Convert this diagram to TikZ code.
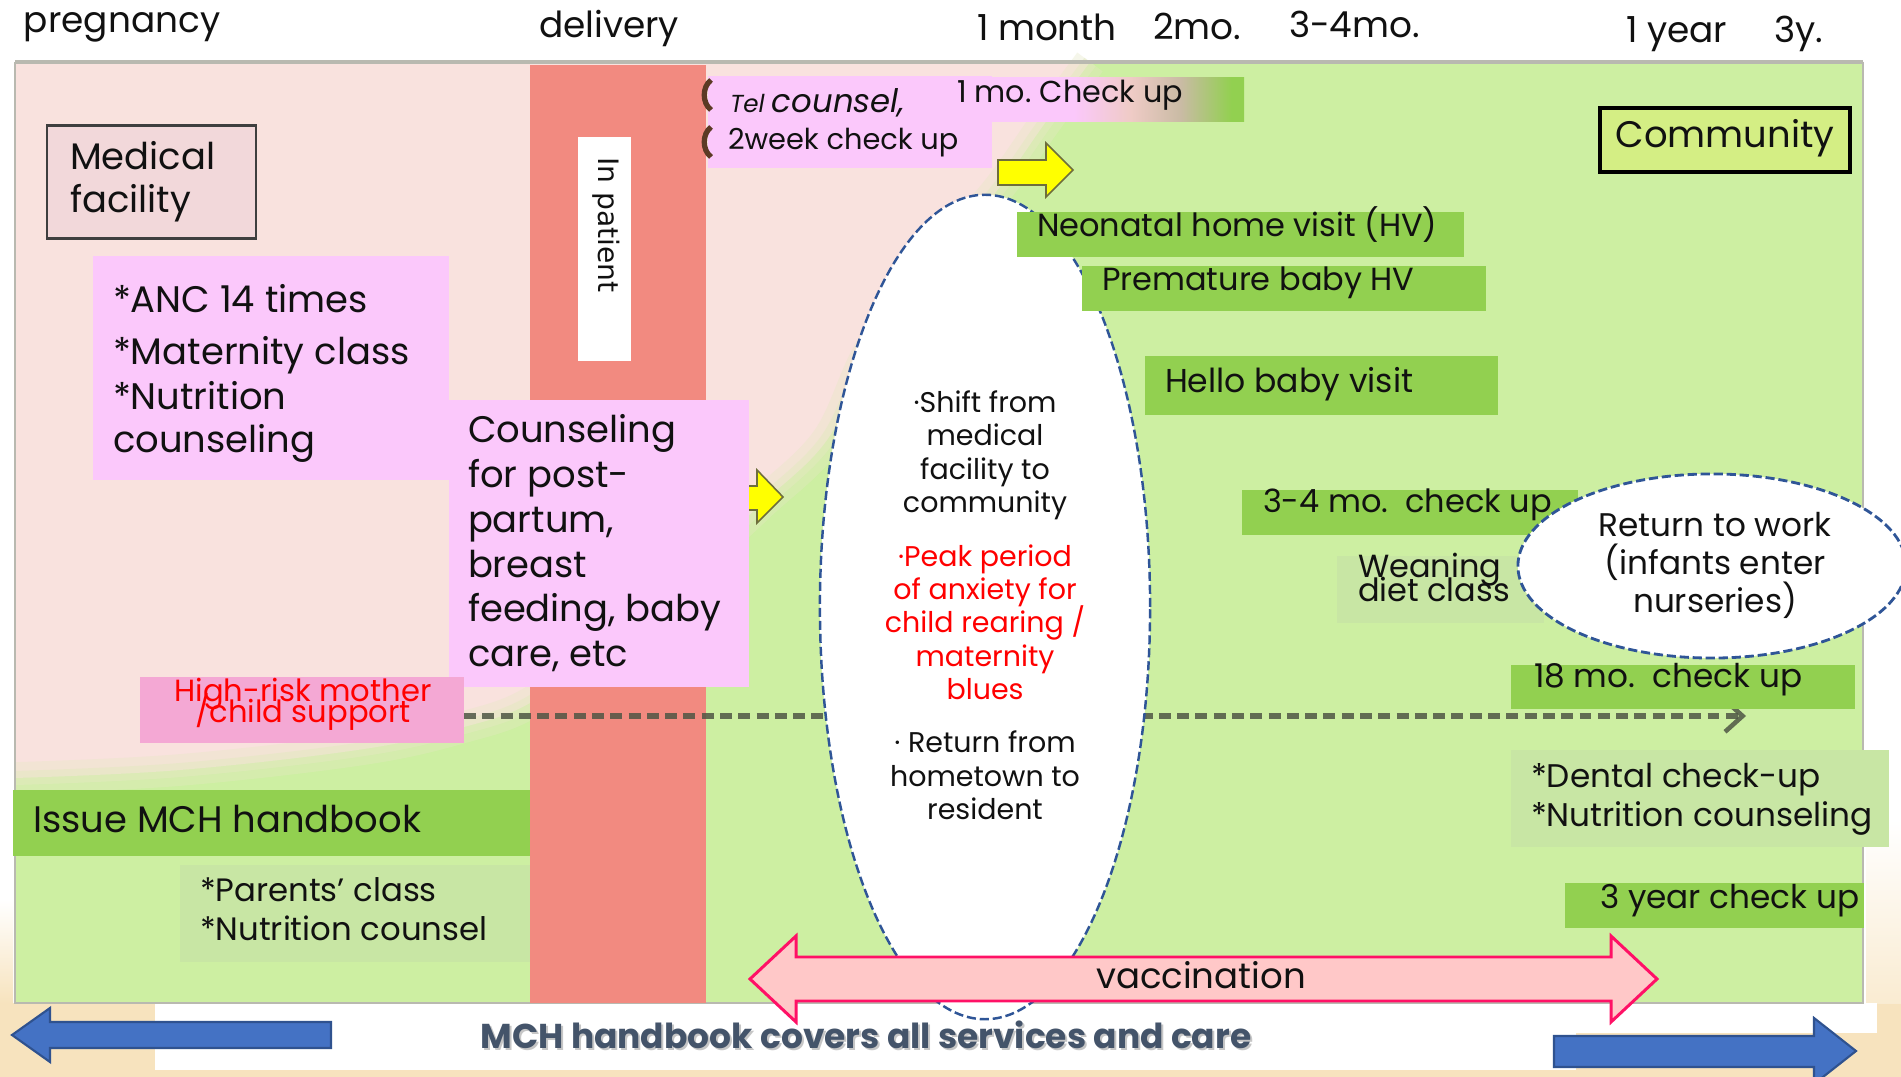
\documentclass[tikz,border=0pt]{standalone}
\usepackage{fontspec}
\setmainfont{Poppins}
\newfontfamily\inpatfont{DejaVu Sans}
\usetikzlibrary{fit,shapes.geometric,arrows.meta}

% palette
\definecolor{ink}{HTML}{111111}
\definecolor{bgpink}{HTML}{F9E2DE}
\definecolor{bggreen}{HTML}{CDEFA2}
\definecolor{bandred}{HTML}{F28A80}
\definecolor{boxpink}{HTML}{FBC8FB}
\definecolor{riskpink}{HTML}{F4A8D4}
\definecolor{boxgreen}{HTML}{92D050}
\definecolor{softgreen}{HTML}{C8E6A4}
\definecolor{medfill}{HTML}{F2D8DA}
\definecolor{medline}{HTML}{3F3F3F}
\definecolor{comfill}{HTML}{D4EE84}
\definecolor{vacfill}{HTML}{FFC8C8}
\definecolor{vacline}{HTML}{FF1166}
\definecolor{bluefill}{HTML}{4472C4}
\definecolor{blueline}{HTML}{2F528F}
\definecolor{ovalline}{HTML}{2F5597}
\definecolor{slate}{HTML}{44546A}
\definecolor{beige}{HTML}{F7E3BE}
\definecolor{yellowarrow}{HTML}{FFFF00}
\definecolor{arrowedge}{HTML}{6E6E3C}
\definecolor{dashgray}{HTML}{4F5645}
\definecolor{panelline}{HTML}{B9B9B0}
\definecolor{brownmark}{HTML}{5C3A24}
\definecolor{fadepeach}{HTML}{EFCBC6}
\definecolor{fademauve}{HTML}{C9BBA4}
\definecolor{alarm}{HTML}{FF0000}

\pgfdeclarehorizontalshading{monthfade}{100bp}{color(0bp)=(boxpink); color(25bp)=(boxpink); color(48bp)=(boxpink); color(57bp)=(fadepeach); color(65bp)=(fademauve); color(73bp)=(boxgreen); color(100bp)=(boxgreen)}

\newcommand\setsz[1]{\fontsize{#1}{#1}\selectfont}
% one named node per line: prefix, x, style, list of baseline/text
\newcommand\textlines[4]{%
  \foreach \yy/\txt [count=\k] in {#4}{\node[#3] (#1-\k) at (#2,\yy) {\txt};}}

\tikzset{
  area/.style={inner sep=0pt, outer sep=0pt},
  lbl/.style={anchor=base west, inner sep=0pt, outer sep=0pt, text=ink},
  clbl/.style={anchor=base, inner sep=0pt, outer sep=0pt, text=ink},
  greenbox/.style={area, fill=boxgreen},
  softbox/.style={area, fill=softgreen},
  pinkbox/.style={area, fill=boxpink},
  oval/.style={ellipse, area, fill=white, draw=ovalline, line width=0.7pt, dash pattern=on 2.6pt off 1.1pt},
  yarrow/.style={fill=yellowarrow, draw=arrowedge, line width=0.45pt, line join=miter},
  bluearrow/.style={fill=bluefill, draw=blueline, line width=0.6pt, line join=miter},
}

\begin{document}
\begin{tikzpicture}[x=0.01cm, y=-0.01cm]
\useasboundingbox (0,0) rectangle (1901,1077);
\fill[white] (0,0) rectangle (1901,1077);

% page background below the panel
\fill[beige] (0,1003) rectangle (1901,1077);
\shade[top color=white, bottom color=beige] (0,900) rectangle (13,1003);
\shade[top color=white, bottom color=beige!70] (1866,820) rectangle (1901,1003);
\fill[white] (155,1003) rectangle (1576,1070);
\fill[white] (1576,1003) rectangle (1877,1033);

% timeline panel: community (green) and medical facility (pink)
\node[area, fill=bggreen, fit={(15,62) (1863,1003)}] (panel) {};
\fill[bgpink] (15,62) -- plot[smooth, tension=0.6] coordinates {(1090,62) (1045,123) (995,193) (930,265) (870,350) (827,440) (760,505) (706,555) (600,650) (530,703) (464,727) (364,749) (180,770) (15,778)} -- cycle;
\draw[bgpink!55!bggreen, opacity=0.35, line width=9pt] plot[smooth, tension=0.6] coordinates {(1090,62) (1045,123) (995,193) (930,265) (870,350) (827,440) (760,505) (706,555) (600,650) (530,703) (464,727) (364,749) (180,770) (15,778)};
\draw[bgpink!50!bggreen, opacity=0.5, line width=4pt] plot[smooth, tension=0.6] coordinates {(1090,62) (1045,123) (995,193) (930,265) (870,350) (827,440) (760,505) (706,555) (600,650) (530,703) (464,727) (364,749) (180,770) (15,778)};
\draw[panelline, line width=1.2pt] (15,62) -- (1863,62);
\draw[panelline, line width=0.6pt] (1863,62) -- (1863,1003) -- (15,1003) -- (15,62);

% in-patient band
\node[area, fill=bandred, fit={(530,65) (706,1003)}] (band) {};
\node[area, fill=white, fit={(578,137) (631,361)}] (inpat) {};
\node[inner sep=0pt, rotate=-90, font=\inpatfont\setsz{8}, text=ink] (inpattext) at (606,225) {In patient};

% time axis labels
\begin{scope}[font=\setsz{10.2}]
\node[lbl] (tpreg) at (24,33) {pregnancy};
\node[lbl] (tdeliv) at (539,38) {delivery};
\node[lbl] (tmonth) at (977,41) {1 month};
\node[lbl] (t2mo) at (1153,40) {2mo.};
\node[lbl] (t34mo) at (1289,38) {3-4mo.};
\node[lbl] (tyear) at (1626,43) {1 year};
\node[lbl] (t3y) at (1774,43) {3y.};
\end{scope}

% medical facility side
\node[area, fill=medfill, draw=medline, line width=0.85pt, fit={(47,126) (256,239)}] (medbox) {};
\textlines{med}{70}{lbl, font=\setsz{10.5}}{170/{Medical}, 213/{facility}}

\node[pinkbox, fit={(93,256) (449,480)}] (ancbox) {};
\textlines{anc}{113}{lbl, font=\setsz{10.5}}{313/{*ANC 14 times}, 365/{*Maternity class}, 410/{*Nutrition}, 453/{counseling}}

% small transition arrow (partly under the counseling box)
\draw[yarrow] (735,486) -- (757,486) -- (757,470) -- (783,497) -- (757,523) -- (757,510) -- (735,510) -- cycle;

\node[pinkbox, fit={(449,400) (749,687)}] (counsbox) {};
\textlines{couns}{468}{lbl, font=\setsz{10.5}}{443/{Counseling}, 488/{for post-}, 533/{partum,}, 578/{breast}, 622/{feeding, baby}, 667/{care, etc}}

\node[area, fill=riskpink, fit={(140,677) (464,743)}] (riskbox) {};
\textlines{risk}{303}{clbl, text=alarm, font=\setsz{8.7}}{702/{High-risk mother}, 723/{/child support}}

\node[greenbox, fit={(13,790) (530,856)}] (issuebox) {};
\node[lbl, font=\setsz{10.5}] (issuetext) at (33,833) {Issue MCH handbook};
\node[softbox, fit={(180,865) (530,962)}] (parentsbox) {};
\textlines{parents}{200}{lbl, font=\setsz{9.2}}{902/{*Parents’ class}, 940/{*Nutrition counsel}}

% early postnatal services
\node[pinkbox, fit={(708,76) (992,168)}] (telbox) {};
\draw[brownmark, line width=1.5pt] (711,80) .. controls (702,87) and (702,103) .. (711,110);
\draw[brownmark, line width=1.5pt] (711,127) .. controls (702,134) and (702,150) .. (711,157);
\node[lbl] (teltext) at (730,113) {{\setsz{7}\itshape Tel }{\setsz{9.2}\itshape counsel,}};
\node[lbl, font=\setsz{8.2}] (twoweek) at (728,150) {2week check up};

\node[area, shading=monthfade, fit={(929,78) (1244,122)}] (monthbox) {};
\node[lbl, font=\setsz{8.6}] (monthtext) at (957,103) {1 mo.\ Check up};

\draw[yarrow] (998,160) -- (1046,160) -- (1046,143) -- (1073,170) -- (1046,197) -- (1046,185) -- (998,185) -- cycle;

% follow-up line for high-risk families
\coordinate (dashend) at (1746,716);
\draw[dashgray, opacity=0.85, line width=1.5pt, dash pattern=on 3.4pt off 1.8pt, -{Straight Barb[length=5pt, width=9pt, line width=1.3pt]}] (riskbox.east |- dashend) -- (dashend);

% transition period
\node[oval, minimum width=3.30cm, minimum height=8.24cm] (shift) at (985,607) {};
\begin{scope}[font=\setsz{8.1}]
\textlines{shift}{985}{clbl}{413/{·Shift from}, 446/{medical}, 480/{facility to}, 513/{community}}
\textlines{peak}{985}{clbl, text=alarm}{567/{·Peak period}, 600/{of anxiety for}, 633/{child rearing /}, 667/{maternity}, 700/{blues}}
\textlines{home}{985}{clbl}{753/{·\ Return from}, 787/{hometown to}, 820/{resident}}
\end{scope}

% community services
\begin{scope}[font=\setsz{9.1}]
\node[greenbox, fit={(1017,212) (1464,257)}] (neobox) {};
\node[lbl] (neotext) at (1037,237) {Neonatal home visit (HV)};
\node[greenbox, fit={(1082,266) (1486,311)}] (premabox) {};
\node[lbl] (prematext) at (1102,291) {Premature baby HV};
\node[greenbox, fit={(1145,356) (1498,415)}] (hellobox) {};
\node[lbl, font=\setsz{9.4}] (hellotext) at (1165,393) {Hello baby visit};
\node[greenbox, fit={(1242,490) (1578,535)}] (m34box) {};
\node[lbl] (m34text) at (1263,513) {3-4 mo.\ \ check up};
\node[softbox, fit={(1337,556) (1544,623)}] (weanbox) {};
\textlines{wean}{1358}{lbl}{578/{Weaning}, 602/{diet class}}
\end{scope}

\node[oval, line width=0.8pt, minimum width=3.88cm, minimum height=1.84cm] (work) at (1712,566) {};
\textlines{work}{1715}{clbl, font=\setsz{9.3}}{537/{Return to work}, 575/{(infants enter}, 613/{nurseries)}}

\begin{scope}[font=\setsz{9.3}]
\node[greenbox, fit={(1511,665) (1855,709)}] (m18box) {};
\node[lbl] (m18text) at (1534,688) {18 mo.\ \ check up};
\node[softbox, fit={(1511,750) (1889,847)}] (dentbox) {};
\textlines{dent}{1531}{lbl}{788/{*Dental check-up}, 827/{*Nutrition counseling}}
\node[greenbox, fit={(1565,883) (1864,928)}] (y3box) {};
\node[lbl] (y3text) at (1600,909) {3 year check up};
\end{scope}

\node[area, fill=comfill, draw=black, line width=1.1pt, fit={(1600,108) (1850,172)}] (combox) {};
\node[clbl, font=\setsz{10.5}] (comtext) at (1725,148) {Community};

% vaccination period
\draw[vacline, fill=vacfill, line width=0.85pt, line join=miter] (750,979) -- (796,936) -- (796,957) -- (1611,957) -- (1611,936) -- (1657,979) -- (1611,1022) -- (1611,1001) -- (796,1001) -- (796,1022) -- cycle;
\node[clbl, font=\setsz{10.1}] (vacc) at (1201,988) {vaccination};

% handbook span
\draw[bluearrow] (12,1035) -- (50,1008) -- (50,1022) -- (331,1022) -- (331,1048) -- (50,1048) -- (50,1062) -- cycle;
\draw[bluearrow] (1554,1036) -- (1814,1036) -- (1814,1018) -- (1856,1051) -- (1814,1084) -- (1814,1067) -- (1554,1067) -- cycle;
\node[clbl, text=gray!45, font=\bfseries\setsz{9.8}] (footshadow) at (868,1050) {MCH handbook covers all services and care};
\node[clbl, text=slate, font=\bfseries\setsz{9.8}] (foot) at (866,1048) {MCH handbook covers all services and care};
\end{tikzpicture}
\end{document}
